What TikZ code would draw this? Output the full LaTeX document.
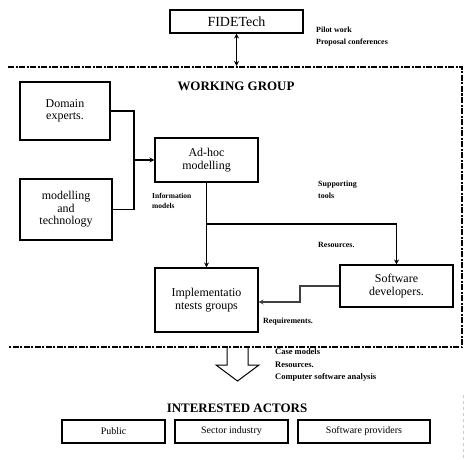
\documentclass[tikz,border=0pt]{standalone}
\usepackage{fontspec}
\setmainfont{Liberation Serif}
\usetikzlibrary{arrows.meta}
\begin{document}
\begin{tikzpicture}[x=1bp, y=-1bp, line cap=butt, line join=miter,
  box/.style={draw, line width=1.1pt, align=center, inner sep=1pt, font=\fontsize{12}{12.5}\selectfont},
  actor/.style={draw, line width=1.3pt, minimum height=23bp, font=\fontsize{10}{11}\selectfont},
  lbl/.style={anchor=west, align=left, inner sep=0pt, font=\bfseries\fontsize{8}{12}\selectfont},
  link/.style={line width=1.5pt, -{Stealth[length=5pt,width=5pt]}}]
  \useasboundingbox (0,0) rectangle (464,460);
  \node[box, minimum width=133bp, minimum height=23bp, font=\fontsize{14}{14}\selectfont] (fide) at (236.5,21.5) {FIDETech};
  \draw[line width=1.2pt, {Stealth[length=5pt,width=5pt]}-{Stealth[length=5pt,width=5pt]}] (fide.south) -- (236.5,66);
  \node[lbl] (call) at (316,37) {Pilot work\\Proposal conferences};
  \draw[line width=1.3pt, dash pattern=on 6bp off 1.5bp on 2bp off 1.5bp] (8,67) -- (462,67) -- (462,347) -- (8,347);
  \node[font=\bfseries\fontsize{13}{13}\selectfont] (wg) at (236,86) {WORKING GROUP};
  \node[box, minimum width=90bp, minimum height=58bp] (domain) at (65,111) {Domain\\experts.};
  \node[box, minimum width=92bp, minimum height=61bp] (modtech) at (66,209.5) {modelling\\and\\technology};
  \node[box, minimum width=103bp, minimum height=44bp] (adhoc) at (206.5,160) {Ad-hoc\\modelling};
  \node[box, minimum width=103bp, minimum height=64bp] (impl) at (206.5,300) {Implementatio\\ntests groups};
  \node[box, minimum width=113bp, minimum height=42bp] (softdev) at (396.5,286) {Software\\developers.};
  \coordinate (join) at (134,160);
  \coordinate (branch) at (206.5,224);
  \coordinate (bend) at (300,302);
  \draw[line width=1.5pt] (domain.east) -| (join);
  \draw[line width=1.5pt] (modtech.east) -| (join);
  \draw[link] (join) -- (adhoc.west);
  \draw[link] (adhoc.south) -- (impl.north);
  \draw[link] (branch) -| (softdev.north);
  \draw[link, line width=2pt, black!75] (softdev.west) -| (bend) -- (impl.east |- bend);
  \node[lbl, font=\bfseries\fontsize{7.5}{10.5}\selectfont] (info) at (152,201) {Information\\models};
  \node[lbl] (tools) at (318,190) {Supporting\\tools};
  \node[lbl] (res) at (318,245) {Resources.};
  \node[lbl] (req) at (263,322) {Requirements.};
  \draw[line width=1pt, line join=miter] (227,347) -- (227,365) -- (216,365) -- (237.5,381)
    -- (259,365) -- (248,365) -- (248,347);
  \node[lbl, font=\bfseries\fontsize{8.5}{12.5}\selectfont] (out) at (275,365) {Case models\\Resources.\\Computer software analysis};
  \node[font=\bfseries\fontsize{13}{13}\selectfont] (actors) at (237,408) {INTERESTED ACTORS};
  \node[actor, minimum width=103bp] (public) at (113.5,431.5) {Public};
  \node[actor, minimum width=113bp] (sector) at (231.5,431.5) {Sector industry};
  \node[actor, minimum width=132bp] (softprov) at (364,431.5) {Software providers};
  \draw[gray!40, dashed] (463,395) -- (463,458);
\end{tikzpicture}
\end{document}
